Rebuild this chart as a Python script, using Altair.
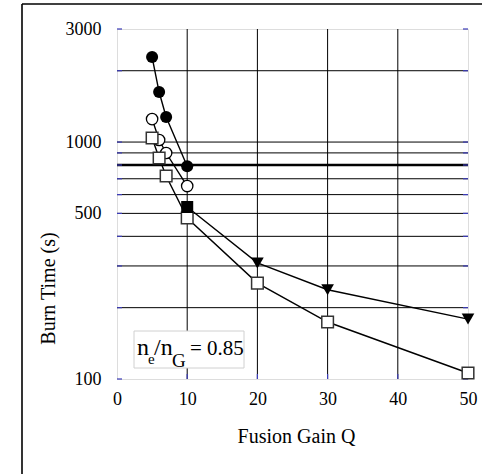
import altair as alt
import pandas as pd

# Burn time versus fusion gain for several operating scenarios
q_fill_circle = [5, 6, 7, 10]
t_fill_circle = [2285, 1626, 1275, 790]

q_open_circle = [5, 6, 7, 10]
t_open_circle = [1250, 1020, 899, 652]

q_open_square = [5, 6, 7, 10, 20, 30, 50]
t_open_square = [1040, 856, 719, 478, 254, 174, 106]

q_fill_square = [10]
t_fill_square = [532]

q_triangle = [20, 30, 50]
t_triangle = [309, 238, 179]

reference_time = [800]

y_grid = [200, 300, 400, 500, 600, 700, 800, 900, 1000, 2000]
x_grid = [10, 20, 30, 40]
y_ticks = [100, 200, 300, 400, 500, 600, 700, 800, 900, 1000, 2000, 3000]
x_ticks = [10, 20, 30, 40]
y_labels = [100, 500, 1000, 3000]
x_labels = [0, 10, 20, 30, 40, 50]

W, H = 351, 350
FONT = "Liberation Serif"
BLUE = "#3c3cb8"


def frame(q, t, name):
    return pd.DataFrame({"Q": q, "T": t, "series": name})


lines_df = pd.concat([
    frame(q_fill_circle, t_fill_circle, "a"),
    frame(q_open_circle, t_open_circle, "b"),
    frame(q_open_square, t_open_square, "c"),
    frame(q_fill_square + q_triangle, t_fill_square + t_triangle, "d"),
])

x_scale = alt.Scale(domain=[0, 50], nice=False)
y_scale = alt.Scale(type="log", domain=[100, 3000], nice=False)

x_enc = alt.X("Q:Q", scale=x_scale, axis=alt.Axis(
    values=x_labels, grid=False, ticks=False, domain=False, labelFlush=False,
    labelFont=FONT, labelFontSize=18, labelColor="black", labelPadding=11,
    title="Fusion Gain Q", titleFont=FONT, titleFontSize=20,
    titleFontWeight="normal", titleColor="black",
    titleX=179, titleY=57, titleAlign="center", titleBaseline="middle"))
y_enc = alt.Y("T:Q", scale=y_scale, axis=alt.Axis(
    values=y_labels, grid=False, ticks=False, domain=False, labelFlush=False,
    labelExpr="format(datum.value, 'd')",
    labelFont=FONT, labelFontSize=18, labelColor="black", labelPadding=16,
    title="Burn Time (s)", titleFont=FONT, titleFontSize=20,
    titleFontWeight="normal", titleColor="black",
    titleX=-69, titleY=259, titleAngle=270, titleAlign="center",
    titleBaseline="middle"))

# grid lines
hgrid = alt.Chart(pd.DataFrame({"T": y_grid})).mark_rule(
    color="black", strokeWidth=1).encode(
    y=alt.Y("T:Q", scale=y_scale), x=alt.value(0), x2=alt.value(W))
vgrid = alt.Chart(pd.DataFrame({"Q": x_grid})).mark_rule(
    color="black", strokeWidth=1).encode(
    x=alt.X("Q:Q", scale=x_scale), y=alt.value(0), y2=alt.value(H))

# heavy reference line
ref = alt.Chart(pd.DataFrame({"T": reference_time})).mark_rule(
    color="black", strokeWidth=2.5).encode(
    y=alt.Y("T:Q", scale=y_scale), x=alt.value(0), x2=alt.value(W))

# inward blue ticks on left, right and bottom
yt = pd.DataFrame({"T": y_ticks})
lt = alt.Chart(yt).mark_rule(color=BLUE, strokeWidth=1.2).encode(
    y=alt.Y("T:Q", scale=y_scale), x=alt.value(0), x2=alt.value(5))
rt = alt.Chart(yt).mark_rule(color=BLUE, strokeWidth=1.2).encode(
    y=alt.Y("T:Q", scale=y_scale), x=alt.value(W - 5), x2=alt.value(W))
bt = alt.Chart(pd.DataFrame({"Q": x_ticks})).mark_rule(
    color=BLUE, strokeWidth=1.2).encode(
    x=alt.X("Q:Q", scale=x_scale), y=alt.value(H - 5), y2=alt.value(H))

lines = alt.Chart(lines_df).mark_line(color="black", strokeWidth=1.4).encode(
    x=x_enc, y=y_enc, detail="series:N")


def pts(q, t, **kw):
    return alt.Chart(pd.DataFrame({"Q": q, "T": t})).mark_point(**kw).encode(
        x=alt.X("Q:Q", scale=x_scale), y=alt.Y("T:Q", scale=y_scale))


p_fc = pts(q_fill_circle, t_fill_circle, shape="circle", size=145,
           filled=True, color="black", opacity=1)
p_oc = pts(q_open_circle, t_open_circle, shape="circle", size=130,
           fill="white", stroke="black", strokeWidth=1.3, opacity=1)
p_os = pts(q_open_square, t_open_square, shape="square", size=135,
           fill="white", stroke="#333333", strokeWidth=1.5, opacity=1)
p_fs = pts(q_fill_square, t_fill_square, shape="square", size=145,
           filled=True, color="black", opacity=1)
p_tr = pts(q_triangle, t_triangle, shape="triangle-down", size=160,
           filled=True, color="black", opacity=1)

one = pd.DataFrame({"k": [0]})

# annotation box with n_e/n_G = 0.85
box = alt.Chart(one).mark_rect(fill="white", stroke="#d0d0d0",
                               strokeWidth=1).encode(
    x=alt.value(17), x2=alt.value(127), y=alt.value(302), y2=alt.value(339))


def txt(s, x, y, size):
    return alt.Chart(one).mark_text(
        text=s, font=FONT, fontSize=size, align="left",
        baseline="alphabetic", color="black").encode(
        x=alt.value(x), y=alt.value(y))


label = (txt("n", 20, 326, 24) + txt("e", 31, 335, 15) +
         txt("/n", 37, 326, 24) + txt("G", 55, 338, 19) +
         txt("= 0.85", 73, 326, 21))

# outer border of the figure
border_left = alt.Chart(one).mark_rule(color="black", strokeWidth=1.6).encode(
    x=alt.value(-95), y=alt.value(-25), y2=alt.value(445))
border_top = alt.Chart(one).mark_rule(color="black", strokeWidth=1.6).encode(
    x=alt.value(-95), x2=alt.value(365), y=alt.value(-25))

chart = alt.layer(
    hgrid, vgrid, ref, lt, rt, bt, lines,
    p_fc, p_oc, p_os, p_fs, p_tr, box, label, border_left, border_top,
).properties(
    width=W, height=H,
    autosize=alt.AutoSizeParams(type="none"),
    padding={"left": 117, "top": 29, "right": 14, "bottom": 95},
).configure_view(
    stroke=BLUE, strokeWidth=1.5, fill="white"
).configure(background="white")

chart.save("out.html", embed_options={"renderer": "svg", "actions": False})
